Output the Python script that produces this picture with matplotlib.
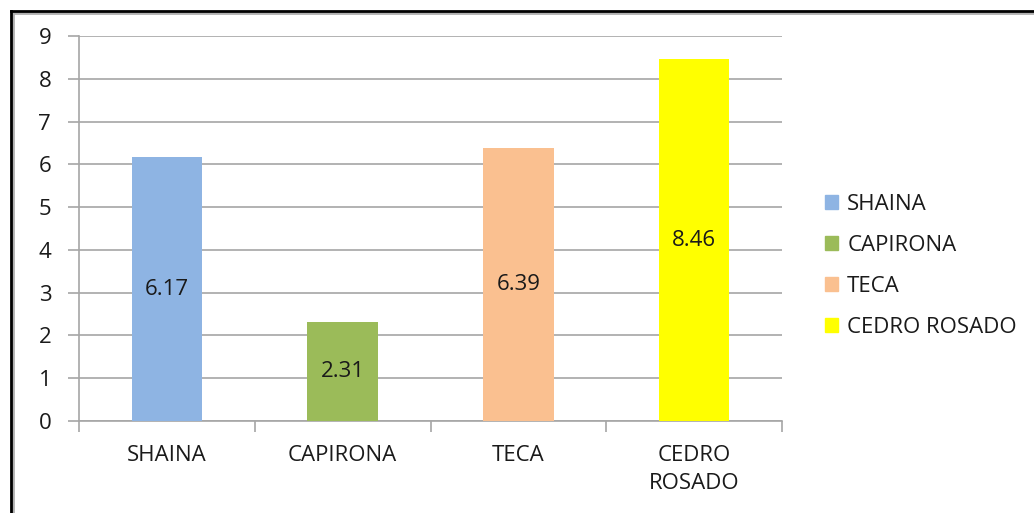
import matplotlib.pyplot as plt
from matplotlib.lines import Line2D

species = ["SHAINA", "CAPIRONA", "TECA", "CEDRO ROSADO"]
tick_labels = ["SHAINA", "CAPIRONA", "TECA", "CEDRO\nROSADO"]
values = [6.17, 2.31, 6.39, 8.46]
colors = ["#8EB4E3", "#9BBB59", "#FAC090", "#FFFF00"]

plt.rcParams['font.family'] = ['Open Sans', 'DejaVu Sans']

fig = plt.figure(figsize=(10.34, 5.13), dpi=100)
ax = fig.add_axes([79 / 1034, 1 - 421 / 513, (782 - 79) / 1034, (421 - 36) / 513])

xs = list(range(len(species)))
bars = ax.bar(xs, values, width=0.4, color=colors, label=species, zorder=3)
for b, v in zip(bars, values):
    ax.text(b.get_x() + b.get_width() / 2, v / 2, f"{v:.2f}", ha="center", va="center",
            fontsize=16, color="#1a1a1a", zorder=4)

ax.set_xlim(-0.5, 3.5)
ax.set_ylim(0, 9)
ax.set_yticks(range(10))
ax.yaxis.grid(True, color="#a6a6a6", linewidth=1.2, zorder=0)
ax.tick_params(axis="y", length=8, width=1.2, color="#a6a6a6", pad=12, labelsize=16, labelcolor="#1a1a1a")

ax.set_xticks(xs)
ax.set_xticklabels(tick_labels, fontsize=16, color="#1a1a1a", linespacing=1.45)
ax.tick_params(axis="x", which="major", length=0, pad=17)
ax.set_xticks([-0.5, 0.5, 1.5, 2.5, 3.5], minor=True)
ax.tick_params(axis="x", which="minor", length=8, width=1.2, color="#a6a6a6")

for s in ["top", "right"]:
    ax.spines[s].set_visible(False)
for s in ["left", "bottom"]:
    ax.spines[s].set_color("#a6a6a6")
    ax.spines[s].set_linewidth(1.2)

handles = [plt.Rectangle((0, 0), 1, 1, color=c) for c in colors]
fig.legend(handles, species, loc="center left", bbox_to_anchor=(805 / 1034, 1 - 266 / 513),
           frameon=False, fontsize=16, handlelength=0.6, handleheight=0.6,
           handletextpad=0.4, labelspacing=0.9, labelcolor="#1a1a1a")

# outer chart border (top and left, with a soft shadow)
W, H = 1034, 513
fig.add_artist(Line2D([13 / W, 1], [1 - 13 / H, 1 - 13 / H], transform=fig.transFigure,
                      color="#b0b0b0", linewidth=2))
fig.add_artist(Line2D([13 / W, 13 / W], [0, 1 - 13 / H], transform=fig.transFigure,
                      color="#b0b0b0", linewidth=2))
fig.add_artist(Line2D([11 / W, 1], [1 - 11 / H, 1 - 11 / H], transform=fig.transFigure,
                      color="black", linewidth=2))
fig.add_artist(Line2D([11 / W, 11 / W], [0, 1 - 11 / H], transform=fig.transFigure,
                      color="black", linewidth=2))

fig.savefig("out.png", dpi=100)
